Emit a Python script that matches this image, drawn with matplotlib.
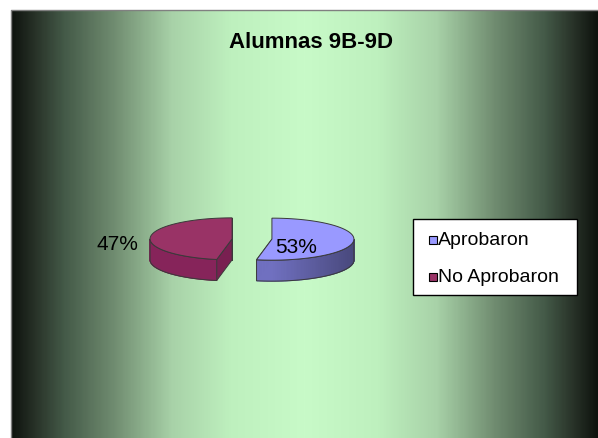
import numpy as np
import matplotlib.pyplot as plt
from matplotlib.patches import Polygon, Rectangle
from matplotlib.colors import LinearSegmentedColormap, to_rgb

plt.rcParams['font.family'] = ['Liberation Sans', 'DejaVu Sans']

# data
title = 'Alumnas 9B-9D'
labels = ['Aprobaron', 'No Aprobaron']
values = [53, 47]
top_colors = ['#9999ff', '#993366']
side_colors = ['#7070c0', '#86245a']

W, H = 598, 439
fig = plt.figure(figsize=(W / 100, H / 100), dpi=100)
ax = fig.add_axes([0, 0, 1, 1])
ax.set_xlim(0, W)
ax.set_ylim(H, 0)
ax.axis('off')

# background gradient (dark edges, light green centre)
grad = LinearSegmentedColormap.from_list('bg', [
    (0.0, '#c8fac8'), (0.25, '#bef0be'), (0.45, '#a8d2a8'),
    (0.65, '#708c70'), (0.82, '#445a48'), (0.92, '#283228'), (1.0, '#0e130e')])
x0, x1 = 11, 598
xs = np.abs(np.linspace(-1, 1, 600))
img = grad(xs)[np.newaxis, :, :]
ax.imshow(img, extent=(x0, x1, H, 11), aspect='auto', zorder=0)
ax.plot([x0, x0, x1], [H, 11, 11], color='#808080', lw=1, zorder=1)

ax.text(311, 42, title, ha='center', va='center', fontsize=16, fontweight='bold', zorder=5)

# flat 3d exploded pie
cx, cy = 252, 240
rx, ry, depth, expl = 82, 21, 21, 20
edge = '#3a3a3a'


def shade(c, f):
    r, g, b = to_rgb(c)
    return (r * f, g * f, b * f)


fr = np.array(values) / sum(values)
start = 90.0
label_pos = []
for i, f in enumerate(fr):
    a0 = start
    a1 = start - f * 360
    start = a1
    mid = np.radians((a0 + a1) / 2)
    ox = cx + expl * np.cos(mid)
    oy = cy - expl * np.sin(mid) * ry / rx * 0.3
    t = np.radians(np.linspace(a1, a0, 200))
    px = ox + rx * np.cos(t)
    py = oy - ry * np.sin(t)

    # cut faces
    for a in (a0, a1):
        ar = np.radians(a)
        ex, ey = ox + rx * np.cos(ar), oy - ry * np.sin(ar)
        ax.add_patch(Polygon([(ox, oy), (ex, ey), (ex, ey + depth), (ox, oy + depth)],
                             closed=True, fc=shade(side_colors[i], 0.9), ec=edge, lw=0.7, zorder=2))

    # curved front side, drawn in strips for shading
    front = np.sin(t) <= 0
    idx = np.where(front)[0]
    if len(idx) > 1:
        for k in range(idx[0], idx[-1]):
            c = np.cos(t[k])
            fac = 1.0 - 0.35 * max(c, 0) if i == 0 else 1.0 - 0.15 * max(c, 0)
            col = shade(side_colors[i], fac)
            ax.add_patch(Polygon([(px[k], py[k]), (px[k + 1], py[k + 1]),
                                  (px[k + 1], py[k + 1] + depth), (px[k], py[k] + depth)],
                                 closed=True, fc=col, ec=col, lw=0.8, zorder=3))
        sx = np.concatenate([px[idx], px[idx][::-1]])
        sy = np.concatenate([py[idx], py[idx][::-1] + depth])
        ax.add_patch(Polygon(np.column_stack([sx, sy]), closed=True, fill=False, ec=edge, lw=0.7, zorder=3))

    # top face
    tx = np.concatenate([[ox], px])
    ty = np.concatenate([[oy], py])
    ax.add_patch(Polygon(np.column_stack([tx, ty]), closed=True, fc=top_colors[i], ec=edge, lw=0.7, zorder=4))

    k = 0.3 if i == 0 else 1.4
    label_pos.append((ox + k * rx * np.cos(mid), oy - k * ry * np.sin(mid) + 7))

for i, v in enumerate(values):
    ax.text(label_pos[i][0], label_pos[i][1], f'{v}%', ha='center', va='center', fontsize=15, zorder=6)

# legend
ax.add_patch(Rectangle((413, 220), 164, 76, fc='white', ec='black', lw=1, zorder=5))
for i, lab in enumerate(labels):
    yy = 241 + i * 37
    ax.add_patch(Rectangle((429, yy - 4), 8, 8, fc=top_colors[i], ec='black', lw=0.8, zorder=6))
    ax.text(438, yy, lab, ha='left', va='center', fontsize=14, zorder=6)

fig.savefig('out.png', dpi=100)
